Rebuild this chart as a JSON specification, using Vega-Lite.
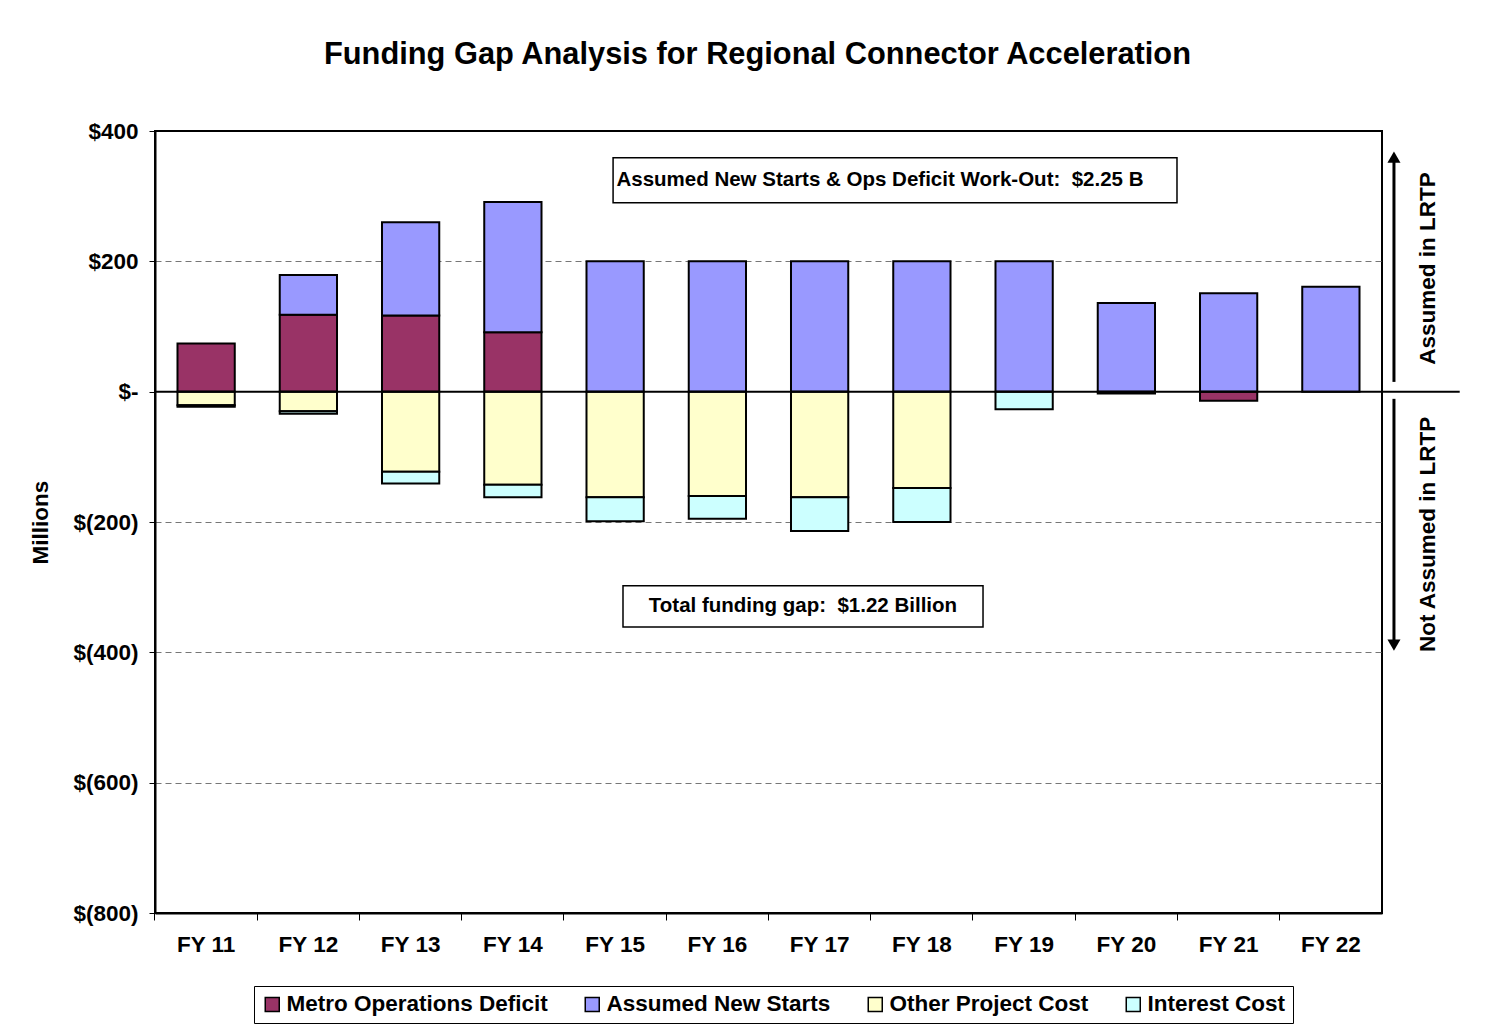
{
  "$schema": "https://vega.github.io/schema/vega-lite/v6.json",
  "width": 1227,
  "height": 782,
  "padding": {"left": 29, "top": 39, "right": 5, "bottom": 4},
  "background": "white",
  "title": {
    "text": "Funding Gap Analysis for Regional Connector Acceleration",
    "font": "Liberation Sans",
    "fontSize": 30.8,
    "fontWeight": "bold",
    "color": "black",
    "anchor": "middle",
    "frame": "group",
    "dx": -11,
    "offset": 49
  },
  "datasets": {
    "bars": [
      {"year": "FY 11", "series": "Metro Operations Deficit", "value": 74},
      {"year": "FY 11", "series": "Other Project Cost", "value": -21},
      {"year": "FY 11", "series": "Interest Cost", "value": -2},
      {"year": "FY 12", "series": "Metro Operations Deficit", "value": 118},
      {"year": "FY 12", "series": "Assumed New Starts", "value": 61},
      {"year": "FY 12", "series": "Other Project Cost", "value": -30},
      {"year": "FY 12", "series": "Interest Cost", "value": -4},
      {"year": "FY 13", "series": "Metro Operations Deficit", "value": 117},
      {"year": "FY 13", "series": "Assumed New Starts", "value": 143},
      {"year": "FY 13", "series": "Other Project Cost", "value": -123},
      {"year": "FY 13", "series": "Interest Cost", "value": -18},
      {"year": "FY 14", "series": "Metro Operations Deficit", "value": 91},
      {"year": "FY 14", "series": "Assumed New Starts", "value": 200},
      {"year": "FY 14", "series": "Other Project Cost", "value": -143},
      {"year": "FY 14", "series": "Interest Cost", "value": -19},
      {"year": "FY 15", "series": "Assumed New Starts", "value": 200},
      {"year": "FY 15", "series": "Other Project Cost", "value": -162},
      {"year": "FY 15", "series": "Interest Cost", "value": -37},
      {"year": "FY 16", "series": "Assumed New Starts", "value": 200},
      {"year": "FY 16", "series": "Other Project Cost", "value": -160},
      {"year": "FY 16", "series": "Interest Cost", "value": -35},
      {"year": "FY 17", "series": "Assumed New Starts", "value": 200},
      {"year": "FY 17", "series": "Other Project Cost", "value": -162},
      {"year": "FY 17", "series": "Interest Cost", "value": -52},
      {"year": "FY 18", "series": "Assumed New Starts", "value": 200},
      {"year": "FY 18", "series": "Other Project Cost", "value": -148},
      {"year": "FY 18", "series": "Interest Cost", "value": -52},
      {"year": "FY 19", "series": "Assumed New Starts", "value": 200},
      {"year": "FY 19", "series": "Interest Cost", "value": -27},
      {"year": "FY 20", "series": "Assumed New Starts", "value": 136},
      {"year": "FY 20", "series": "Metro Operations Deficit", "value": -3},
      {"year": "FY 21", "series": "Assumed New Starts", "value": 151},
      {"year": "FY 21", "series": "Metro Operations Deficit", "value": -14},
      {"year": "FY 22", "series": "Assumed New Starts", "value": 161}
    ],
    "boxes": [
      {"label": "Assumed New Starts & Ops Deficit Work-Out:\u00a0 $2.25 B", "x1": 4.48, "x2": 9.995, "y1": 359, "y2": 290, "xm": 7.09, "ym": 325},
      {"label": "Total funding gap:\u00a0 $1.22 Billion", "x1": 4.577, "x2": 8.098, "y1": -298, "y2": -361, "xm": 6.337, "ym": -329}
    ],
    "baseline": [{"x1": 0, "x2": 12.76, "v": 0}],
    "arrows": [
      {"x": 12.117, "from": 15, "to": 360, "dir": "up"},
      {"x": 12.117, "from": -11, "to": -389, "dir": "down"}
    ],
    "side": [
      {"x": 12.45, "y": 189, "label": "Assumed in LRTP"},
      {"x": 12.45, "y": -219, "label": "Not Assumed in LRTP"}
    ]
  },
  "layer": [
    {
      "data": {"name": "bars"},
      "mark": {"type": "bar", "stroke": "black", "strokeWidth": 2},
      "encoding": {
        "x": {
          "field": "year",
          "type": "nominal",
          "sort": null,
          "scale": {"paddingInner": 0.44, "paddingOuter": 0.22},
          "axis": {
            "title": null,
            "labelAngle": 0,
            "bandPosition": -0.393,
            "domainColor": "black",
            "domainWidth": 2,
            "tickColor": "black",
            "tickSize": 7,
            "tickWidth": 1,
            "labelFont": "Liberation Sans",
            "labelFontSize": 22.5,
            "labelFontWeight": "bold",
            "labelColor": "black",
            "labelPadding": 13
          }
        },
        "y": {
          "field": "value",
          "type": "quantitative",
          "stack": "zero",
          "scale": {"domain": [-800, 400], "nice": false, "zero": false},
          "axis": {
            "title": "Millions",
            "values": [-800, -600, -400, -200, 0, 200, 400],
            "labelExpr": "datum.value == 0 ? '$-' : (datum.value < 0 ? '$(' + format(-datum.value, 'd') + ')' : '$' + format(datum.value, 'd'))",
            "grid": true,
            "gridDash": [6, 4],
            "gridColor": "#777777",
            "gridWidth": 1,
            "gridOpacity": {"condition": {"test": "datum.value == 400 || datum.value == -800 || datum.value == 0", "value": 0}, "value": 1},
            "domainColor": "black",
            "domainWidth": 2,
            "tickColor": "black",
            "tickSize": 6,
            "labelFont": "Liberation Sans",
            "labelFontSize": 22.5,
            "labelFontWeight": "bold",
            "labelColor": "black",
            "labelPadding": 11,
            "titleFont": "Liberation Sans",
            "titleFontSize": 22.5,
            "titleFontWeight": "bold",
            "titleColor": "black",
            "titlePadding": 20
          }
        },
        "color": {
          "field": "series",
          "type": "nominal",
          "scale": {
            "domain": ["Metro Operations Deficit", "Assumed New Starts", "Other Project Cost", "Interest Cost"],
            "range": ["#993366", "#9999FF", "#FFFFCC", "#CCFFFF"]
          },
          "legend": {
            "title": null,
            "orient": "none",
            "legendX": 99,
            "legendY": 855,
            "direction": "horizontal",
            "columns": 4,
            "symbolType": "square",
            "symbolSize": 196,
            "symbolStrokeColor": "black",
            "symbolStrokeWidth": 1.5,
            "labelFont": "Liberation Sans",
            "labelFontSize": 22.5,
            "labelFontWeight": "bold",
            "labelColor": "black",
            "labelLimit": 600,
            "labelOffset": 3,
            "columnPadding": 33,
            "padding": 7,
            "strokeColor": "black",
            "fillColor": "white"
          }
        },
        "order": {"field": "series", "sort": "descending"}
      }
    },
    {
      "data": {"name": "baseline"},
      "mark": {"type": "rule", "color": "black", "strokeWidth": 2},
      "encoding": {
        "x": {"field": "x1", "type": "quantitative", "scale": {"domain": [0, 12], "nice": false, "zero": false}, "axis": null},
        "x2": {"field": "x2"},
        "y": {"field": "v", "type": "quantitative"}
      }
    },
    {
      "data": {"name": "boxes"},
      "mark": {"type": "rect", "fill": "white", "stroke": "black", "strokeWidth": 1.5},
      "encoding": {
        "x": {"field": "x1", "type": "quantitative", "scale": {"domain": [0, 12], "nice": false, "zero": false}, "axis": null},
        "x2": {"field": "x2"},
        "y": {"field": "y1", "type": "quantitative"},
        "y2": {"field": "y2"}
      }
    },
    {
      "data": {"name": "boxes"},
      "mark": {"type": "text", "font": "Liberation Sans", "fontSize": 20.5, "fontWeight": "bold", "color": "black", "align": "center", "baseline": "middle"},
      "encoding": {
        "x": {"field": "xm", "type": "quantitative", "scale": {"domain": [0, 12], "nice": false, "zero": false}, "axis": null},
        "y": {"field": "ym", "type": "quantitative"},
        "text": {"field": "label"}
      }
    },
    {
      "data": {"name": "arrows"},
      "mark": {"type": "rule", "color": "black", "strokeWidth": 3},
      "encoding": {
        "x": {"field": "x", "type": "quantitative", "scale": {"domain": [0, 12], "nice": false, "zero": false}, "axis": null},
        "y": {"field": "from", "type": "quantitative"},
        "y2": {"field": "to"}
      }
    },
    {
      "data": {"name": "arrows"},
      "mark": {"type": "point", "filled": true, "color": "black", "size": 170, "opacity": 1},
      "encoding": {
        "x": {"field": "x", "type": "quantitative", "scale": {"domain": [0, 12], "nice": false, "zero": false}, "axis": null},
        "y": {"field": "to", "type": "quantitative"},
        "shape": {"field": "dir", "type": "nominal", "scale": {"domain": ["up", "down"], "range": ["triangle-up", "triangle-down"]}, "legend": null}
      }
    },
    {
      "data": {"name": "side"},
      "mark": {"type": "text", "font": "Liberation Sans", "fontSize": 22.5, "fontWeight": "bold", "color": "black", "angle": 270, "align": "center", "baseline": "middle"},
      "encoding": {
        "x": {"field": "x", "type": "quantitative", "scale": {"domain": [0, 12], "nice": false, "zero": false}, "axis": null},
        "y": {"field": "y", "type": "quantitative"},
        "text": {"field": "label"}
      }
    }
  ],
  "resolve": {"scale": {"x": "independent"}},
  "config": {
    "view": {"stroke": "black", "strokeWidth": 2},
    "font": "Liberation Sans"
  }
}
